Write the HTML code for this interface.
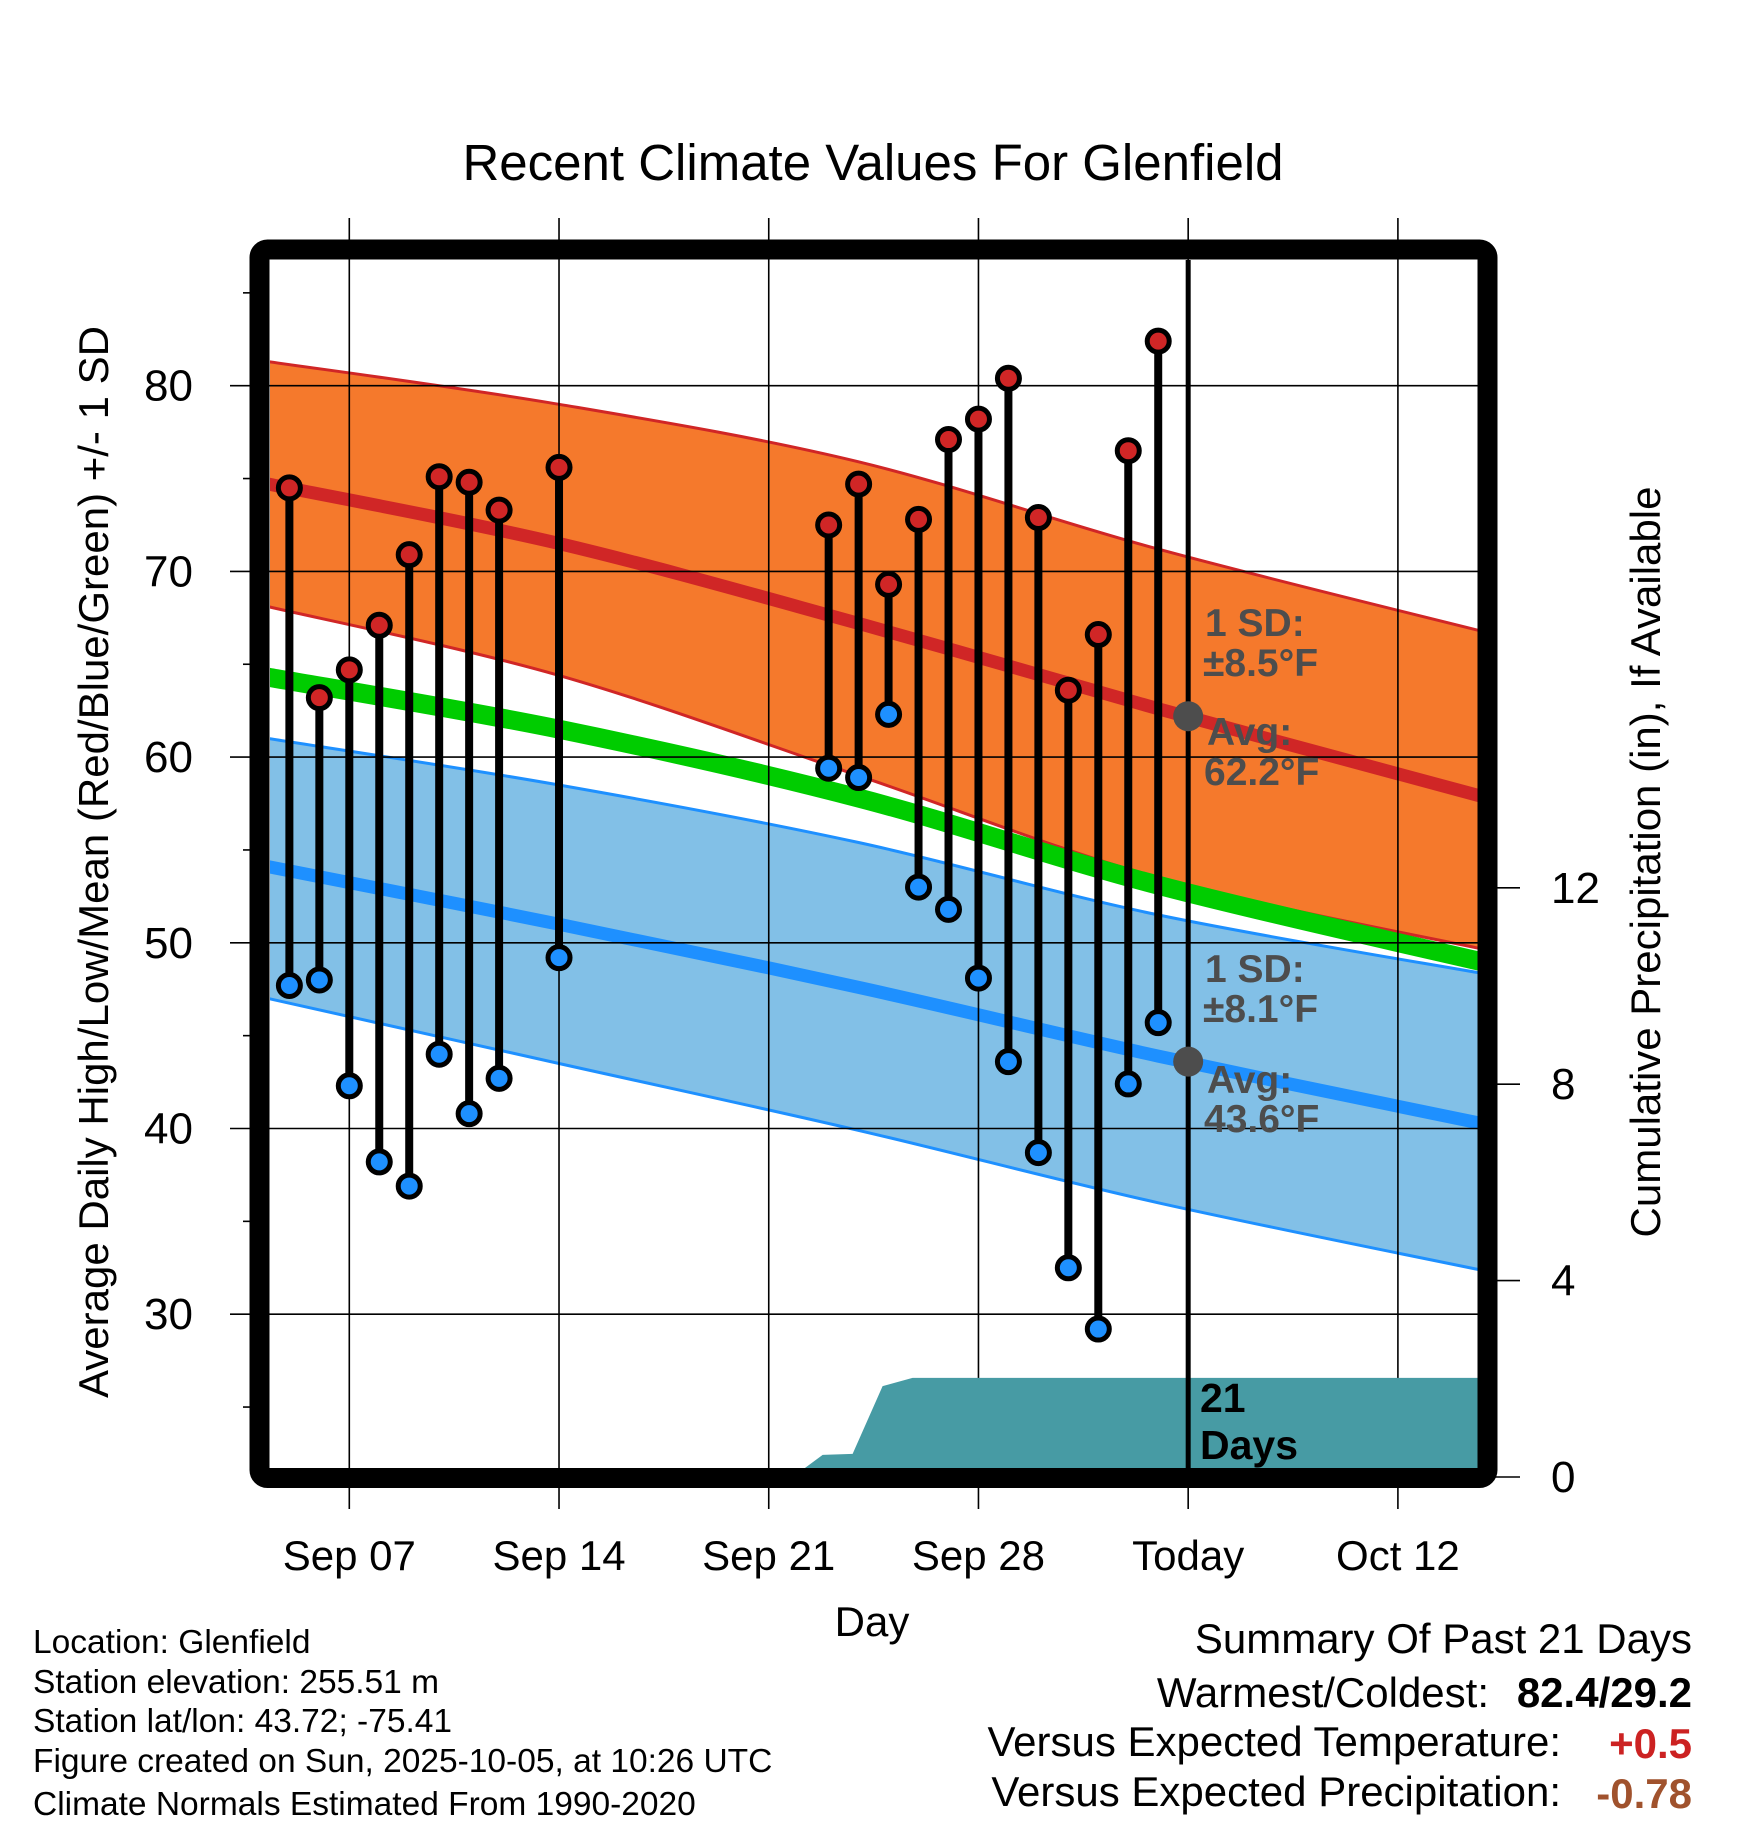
<!DOCTYPE html>
<html><head><meta charset="utf-8"><style>
html,body{margin:0;padding:0;background:#fff}
svg{display:block;font-family:"Liberation Sans",sans-serif}
</style></head><body>
<svg id="chart" xmlns="http://www.w3.org/2000/svg" width="1748" height="1828" viewBox="0 0 1748 1828">
<g id="bands"></g><g id="grid"></g><g id="precip"></g><g id="marks"></g><g id="labels"></g><g id="frame"></g>
</svg>
<script>
// data: days offset from Sep 07 (0 = Sep 07)
const obsDays = [-2,-1,0,1,2,3,4,5,7,16,17,18,19,20,21,22,23,24,25,26,27];
const highs = [74.5,63.2,64.7,67.1,70.9,75.1,74.8,73.3,75.6,72.5,74.7,69.3,72.8,77.1,78.2,80.4,72.9,63.6,66.6,76.5,82.4];
const lows  = [47.7,48.0,42.3,38.2,36.9,44.0,40.8,42.7,49.2,59.4,58.9,62.3,53.0,51.8,48.1,43.6,38.7,32.5,29.2,42.4,45.7];
const normDays = [-2.7,7,17,27,38];
const normHigh = [74.7,71.5,67.2,62.6,57.8];
const highUpper = [81.3,79.0,75.9,71.2,66.7];
const highLower = [68.1,64.4,59.0,53.5,49.6];
const normMean = [64.3,61.5,57.8,53.1,48.9];
const normLow = [54.1,51.0,47.6,43.9,40.2];
const lowUpper = [61.0,58.5,55.4,51.5,48.3];
const lowLower = [47.0,43.5,39.9,36.0,32.3];
const precipDays = [14.8,15.8,16.8,17.8,18.8,38];
const precipCum = [0,0.45,0.47,1.85,2.02,2.02];
const xTickDays = [0,7,14,21,28,35];
const xTickLabels = ["Sep 07","Sep 14","Sep 21","Sep 28","Today","Oct 12"];
const yTicks = [30,40,50,60,70,80];
const yMinor = [25,35,45,55,65,75,85];
const pTicks = [0,4,8,12];
const todayDay = 28;

const NS="http://www.w3.org/2000/svg";
const L=270,R=1478,T=260,B=1468;
const x=d=>349.3+d*29.96;
const y=v=>385.7+(80-v)*18.57;
const py=p=>1477-p*49.1;
function el(tag,attrs,parent){const e=document.createElementNS(NS,tag);for(const k in attrs)e.setAttribute(k,attrs[k]);parent.appendChild(e);return e;}
const bands=document.getElementById('bands'),grid=document.getElementById('grid'),precip=document.getElementById('precip'),marks=document.getElementById('marks'),labels=document.getElementById('labels'),frame=document.getElementById('frame');
el('clipPath',{id:'clip'},bands).appendChild(document.createElementNS(NS,'rect'));
const cr=document.querySelector('#clip rect');cr.setAttribute('x',L);cr.setAttribute('y',T);cr.setAttribute('width',R-L);cr.setAttribute('height',B-T);
bands.setAttribute('clip-path','url(#clip)');precip.setAttribute('clip-path','url(#clip)');
// smooth Catmull-Rom path through points
function smooth(pts,move){
  let s=(move?'M':'L')+pts[0][0].toFixed(1)+','+pts[0][1].toFixed(1);
  for(let i=0;i<pts.length-1;i++){
    const p0=pts[Math.max(0,i-1)],p1=pts[i],p2=pts[i+1],p3=pts[Math.min(pts.length-1,i+2)];
    const c1=[p1[0]+(p2[0]-p0[0])/6,p1[1]+(p2[1]-p0[1])/6];
    const c2=[p2[0]-(p3[0]-p1[0])/6,p2[1]-(p3[1]-p1[1])/6];
    s+=' C'+c1.map(v=>v.toFixed(1)).join(',')+' '+c2.map(v=>v.toFixed(1)).join(',')+' '+p2[0].toFixed(1)+','+p2[1].toFixed(1);
  }
  return s;
}
const pts=arr=>normDays.map((d,i)=>[x(d),y(arr[i])]);
function line(arr){return smooth(pts(arr),true);}
function band(up,lo){return smooth(pts(up),true)+' '+smooth(pts(lo).reverse(),false)+' Z';}
let e;
e=el('path',{d:band(highUpper,highLower),fill:'#f5792c'},bands);

e=el('path',{d:line(highUpper),fill:'none',stroke:'#d02626','stroke-width':3},bands);

e=el('path',{d:line(highLower),fill:'none',stroke:'#d02626','stroke-width':3},bands);

e=el('path',{d:band(lowUpper,lowLower),fill:'#82c0e7'},bands);

e=el('path',{d:line(lowUpper),fill:'none',stroke:'#1e90ff','stroke-width':3},bands);

e=el('path',{d:line(lowLower),fill:'none',stroke:'#1e90ff','stroke-width':3},bands);

e=el('path',{d:line(normMean),fill:'none',stroke:'#00cc00','stroke-width':19},bands);

e=el('path',{d:line(normHigh),fill:'none',stroke:'#d02626','stroke-width':13},bands);

e=el('path',{d:line(normLow),fill:'none',stroke:'#1e90ff','stroke-width':13},bands);

// grid
xTickDays.forEach((d,i)=>{
 e=el('line',{x1:x(d),x2:x(d),y1:218,y2:1509,stroke:'#000','stroke-width':1.6},grid);
 
 e=el('text',{x:x(d),y:1570,'text-anchor':'middle','font-size':42},labels);e.textContent=xTickLabels[i];
 
});
yTicks.forEach(v=>{
 e=el('line',{x1:230,x2:R,y1:y(v),y2:y(v),stroke:'#000','stroke-width':1.6},grid);
 
 e=el('text',{x:193,y:y(v)+15,'text-anchor':'end','font-size':44},labels);e.textContent=v;
 
});
yMinor.forEach(v=>{
 e=el('line',{x1:243,x2:252,y1:y(v),y2:y(v),stroke:'#000','stroke-width':1.6},grid);
 
});
pTicks.forEach(p=>{
 e=el('line',{x1:1495,x2:1520,y1:py(p),y2:py(p),stroke:'#000','stroke-width':1.6},grid);
 
 e=el('text',{x:1551,y:py(p)+15,'font-size':44},labels);e.textContent=p;
 
});
// precip
{let pp=precipDays.map((d,i)=>x(d)+','+py(precipCum[i]));pp.push(x(precipDays[precipDays.length-1])+','+py(0));pp.push(x(precipDays[0])+','+py(0));
 e=el('polygon',{points:pp.join(' '),fill:'#479ba4'},precip);
 }
// today line
e=el('line',{x1:x(todayDay),x2:x(todayDay),y1:T,y2:B,stroke:'#000','stroke-width':5},marks);

// obs
obsDays.forEach((d,i)=>{
 e=el('line',{x1:x(d),x2:x(d),y1:y(highs[i]),y2:y(lows[i]),stroke:'#000','stroke-width':8},marks);
 
});
obsDays.forEach((d,i)=>{
 e=el('circle',{cx:x(d),cy:y(highs[i]),r:11,fill:'#d02626',stroke:'#000','stroke-width':5},marks);
 
 e=el('circle',{cx:x(d),cy:y(lows[i]),r:11,fill:'#1e90ff',stroke:'#000','stroke-width':5},marks);
 
});
// avg dots
const todayHigh=62.2,todayLow=43.6;
e=el('circle',{cx:x(todayDay),cy:y(todayHigh),r:15,fill:'#4d4d4d'},marks);

e=el('circle',{cx:x(todayDay),cy:y(todayLow),r:15,fill:'#4d4d4d'},marks);

// frame
e=el('rect',{x:259.5,y:249.5,width:1228,height:1228.5,rx:8,fill:'none',stroke:'#000','stroke-width':20},frame);

</script>
<svg style="position:absolute;left:0;top:0" width="1748" height="1828" xmlns="http://www.w3.org/2000/svg">
<g font-family="Liberation Sans, sans-serif">
<text x="873" y="180" text-anchor="middle" font-size="51">Recent Climate Values For Glenfield</text>
<text transform="translate(108,862) rotate(-90)" text-anchor="middle" font-size="42">Average Daily High/Low/Mean (Red/Blue/Green) +/- 1 SD</text>
<text transform="translate(1660,862) rotate(-90)" text-anchor="middle" font-size="42">Cumulative Precipitation (in), If Available</text>
<text x="872" y="1636" text-anchor="middle" font-size="42">Day</text>
<g font-weight="bold" font-size="39" fill="#4d4d4d">
<text x="1205" y="636">1 SD:</text><text x="1203" y="676">±8.5°F</text>
<text x="1207" y="745">Avg:</text><text x="1204" y="785">62.2°F</text>
<text x="1205" y="982">1 SD:</text><text x="1203" y="1022">±8.1°F</text>
<text x="1207" y="1093">Avg:</text><text x="1204" y="1132">43.6°F</text>
</g>
<g font-weight="bold" font-size="41" fill="#000">
<text x="1200" y="1412">21</text><text x="1200" y="1459">Days</text>
</g>
<g font-size="33.5">
<text x="33" y="1653">Location: Glenfield</text>
<text x="33" y="1693">Station elevation: 255.51 m</text>
<text x="33" y="1732">Station lat/lon: 43.72; -75.41</text>
<text x="33" y="1772">Figure created on Sun, 2025-10-05, at 10:26 UTC</text>
<text x="33" y="1815">Climate Normals Estimated From 1990-2020</text>
</g>
<g font-size="42">
<text x="1692" y="1653" text-anchor="end">Summary Of Past 21 Days</text>
<text x="1489" y="1707" text-anchor="end">Warmest/Coldest:</text>
<text x="1692" y="1707" text-anchor="end" font-weight="bold">82.4/29.2</text>
<text x="1561" y="1756" text-anchor="end">Versus Expected Temperature:</text>
<text x="1692" y="1758" text-anchor="end" font-weight="bold" fill="#cc2222">+0.5</text>
<text x="1561" y="1806" text-anchor="end">Versus Expected Precipitation:</text>
<text x="1692" y="1808" text-anchor="end" font-weight="bold" fill="#a0522d">-0.78</text>
</g>
</g>
</svg>
</body></html>
